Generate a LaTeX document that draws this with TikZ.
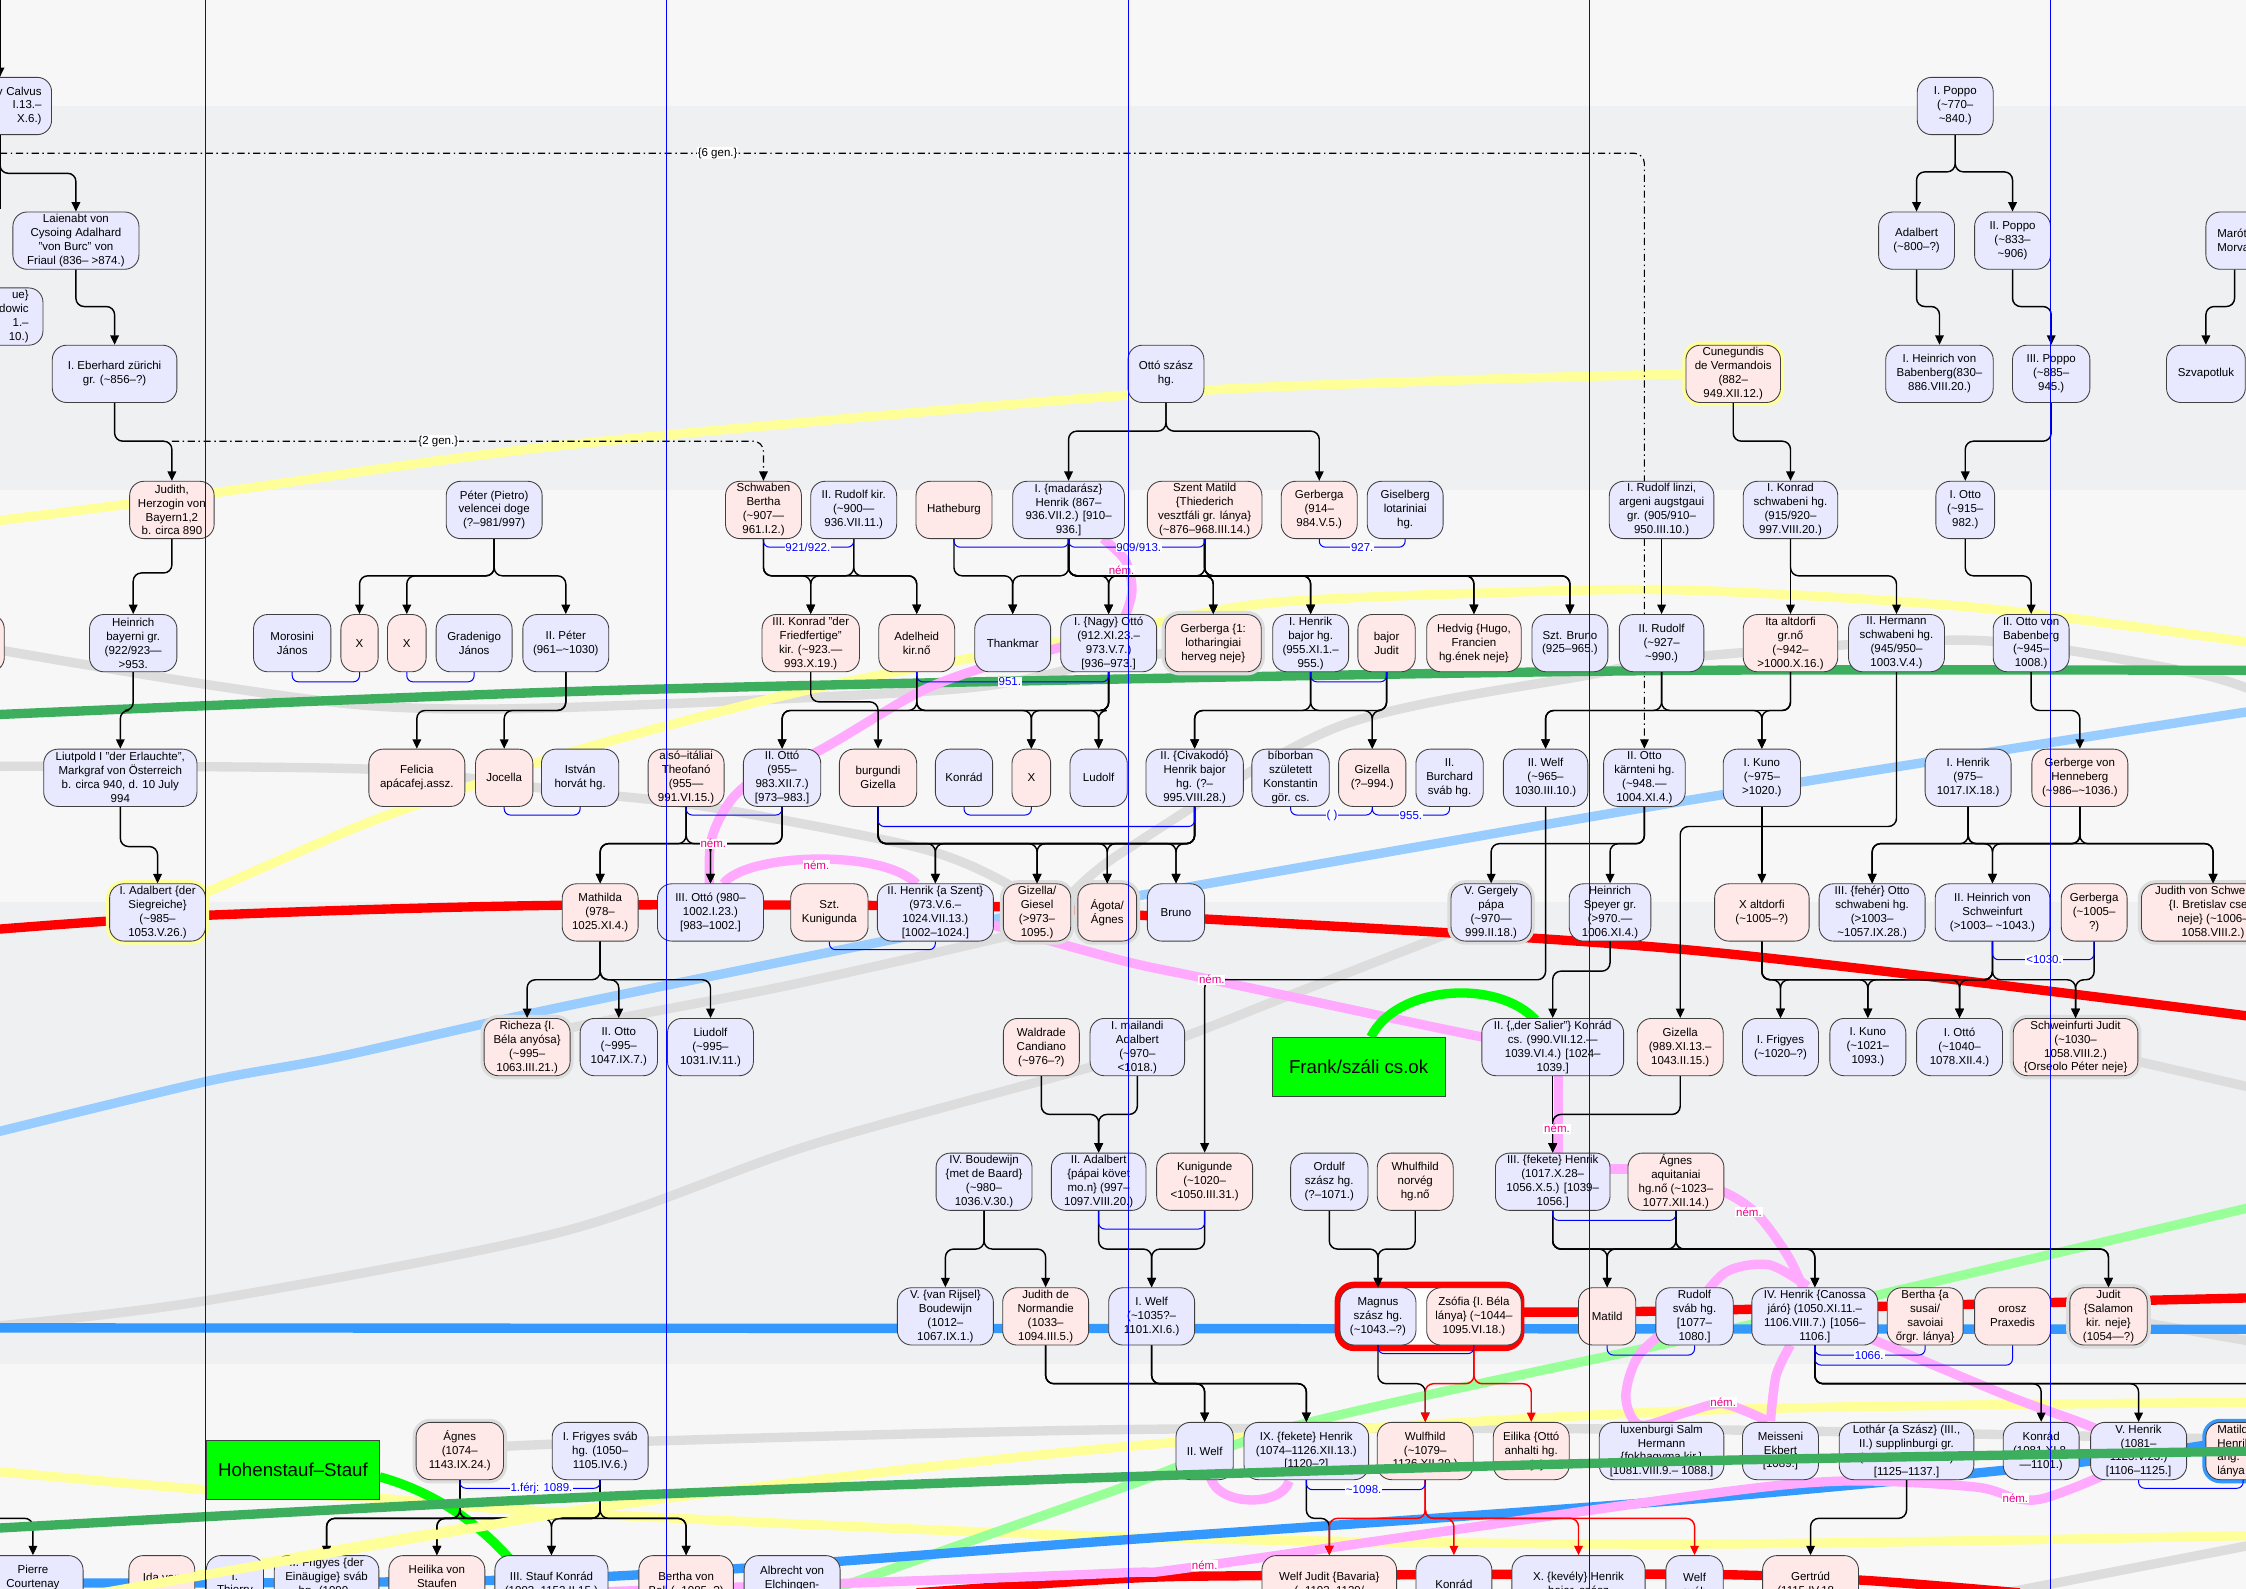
\documentclass[tikz,border=0pt]{standalone}
\usepackage{fontspec}
\setmainfont{Liberation Sans}
\usetikzlibrary{arrows.meta}
\pgfdeclarelayer{bands}
\pgfdeclarelayer{lines}
\pgfdeclarelayer{top}
\pgfsetlayers{bands,lines,main,top}
\definecolor{manfill}{HTML}{E8E8FF}
\definecolor{womanfill}{HTML}{FFE8E8}
\definecolor{bandlight}{HTML}{F7F7F7}
\definecolor{banddark}{HTML}{EFF0F2}
\definecolor{lnyellow}{HTML}{FFFF99}
\definecolor{lngreen}{HTML}{3DAE5E}
\definecolor{lnlime}{HTML}{00FF00}
\definecolor{lnsoft}{HTML}{99FF99}
\definecolor{lnred}{HTML}{FF0000}
\definecolor{lnsky}{HTML}{99CCFF}
\definecolor{lnblue}{HTML}{3399FF}
\definecolor{lnpink}{HTML}{FFAAFF}
\definecolor{lngray}{HTML}{DDDDDD}
\newcommand{\apx}{\textasciitilde}
\newcommand{\kids}[4][kid]{\foreach \kp in {#2}{\foreach \kc in {#4}{\draw[#1] (\kp.south) |- (\kc.north |- 0,#3) -- (\kc.north);}}}
\newcommand{\couple}[3]{\draw[wedline] (#1.south) |- (#2.south |- 0,#3) -- (#2.south);}

\begin{document}
\begin{tikzpicture}[x=0.35mm, y=-0.35mm,
    box/.style={draw=black!75, line width=0.6pt, rounded corners=3.5mm, minimum height=14mm, inner xsep=1pt, inner ysep=0.5pt, align=center, font=\fontsize{8}{9.7}\selectfont},
    man/.style={box, fill=manfill},
    woman/.style={box, fill=womanfill},
    wd/.style={minimum width=#1*0.35mm},
    glowgray/.style={preaction={draw=lngray, line width=5pt}},
    glowyellow/.style={preaction={draw=lnyellow, line width=5pt}},
    glowblue/.style={preaction={draw=lnblue, line width=5pt}},
    kid/.style={draw=black, line width=1pt, rounded corners=2mm, -{Triangle[length=2.3mm,width=2.1mm]}},
    kidred/.style={kid, draw=lnred},
    kidline/.style={draw=black, line width=1pt, rounded corners=2mm},
    wedline/.style={draw=blue, line width=0.7pt, rounded corners=1.5mm},
    wedlab/.style={text=blue, fill=white, inner sep=0.6pt, font=\fontsize{8}{9}\selectfont},
    nemlab/.style={text=magenta, fill=white, inner sep=0.6pt, font=\fontsize{8}{9}\selectfont},
    genlab/.style={fill=white, inner sep=0.6pt, font=\fontsize{8}{9}\selectfont},
    genline/.style={draw=black, line width=0.8pt, dash pattern=on 5pt off 2.5pt on 1pt off 2.5pt, rounded corners=2.5mm},
    hl/.style={draw=#1, line width=6.5pt},
    clan/.style={draw=black!75, fill=lnlime, font=\fontsize{13}{15}\selectfont, minimum width=121*0.35mm, minimum height=41*0.35mm, inner sep=0pt},
    vline/.style={draw=blue, line width=0.6pt}]

\useasboundingbox (0,0) rectangle (1568,1109);

\begin{pgfonlayer}{bands}
\fill[bandlight] (0,0) rectangle (1568,74);
\fill[banddark] (0,74) rectangle (1568,342);
\fill[bandlight] (0,342) rectangle (1568,630);
\fill[banddark] (0,630) rectangle (1568,952);
\fill[bandlight] (0,952) rectangle (1568,1109);
\end{pgfonlayer}

\begin{pgfonlayer}{lines}
\draw[hl=lngray] plot[smooth] coordinates {(-5,453) (145,478) (263,493) (392,494) (668,481) (770,462) (847,452)};
\draw[hl=lngray] plot[smooth] coordinates {(-5,535) (258,537) (392,552) (492,563) (642,592) (705,618) (724,637)};
\draw[hl=lngray] plot[smooth] coordinates {(724,637) (743,628) (785,594) (935,507) (1110,471) (1177,459) (1377,447) (1528,469) (1575,483)};
\draw[hl=lngray] plot[smooth] coordinates {(-5,926) (144,908) (392,860) (567,799) (785,738) (900,695) (1041,640)};
\draw[hl=lngray] plot[smooth] coordinates {(368,731) (392,719) (550,688) (705,653) (724,645)};
\draw[hl=lngray] plot[smooth] coordinates {(321,1013) (392,1008) (785,998) (1177,998) (1575,1005)};
\draw[hl=lngray] (1472,919) -- (1575,937);
\draw[hl=lngray] (1449,731) -- (1575,760);
\draw[hl=lngray] (1400,1112) -- (1575,1078);
\draw[hl=lnsky] plot[smooth] coordinates {(-5,791) (144,755) (235,738) (392,703) (693,642) (785,627) (1177,559) (1575,496)};
\draw[hl=lnyellow] plot[smooth] coordinates {(-5,364) (150,344) (392,311) (785,276) (1000,266) (1177,261) (1210,261)};
\draw[hl=lnyellow] plot[smooth] coordinates {(110,637) (144,623) (250,577) (328,549) (402,524) (567,481) (740,448) (797,437) (885,421) (1035,414) (1177,412) (1378,424) (1575,449)};
\draw[hl=lnyellow] plot[smooth] coordinates {(-5,1027) (144,1040) (264,1046) (392,1056) (785,1073) (1177,1078) (1575,1072)};
\draw[hl=lnyellow] plot[smooth] coordinates {(60,1114) (392,1056) (785,1010) (1177,985) (1575,979)};
\draw[hl=lngreen] plot[smooth] coordinates {(-5,499) (392,483) (785,474) (1177,468) (1575,468)};
\draw[hl=lnsoft] plot[smooth] coordinates {(575,1112) (785,1038) (910,994) (1177,935) (1307,905) (1575,842)};
\draw[hl=lnred] plot[smooth] coordinates {(-5,649) (144,639) (392,632) (700,633) (797,639) (1177,663) (1575,710)};
\draw[hl=lnred] plot[smooth] coordinates {(1064,916) (1177,915) (1575,906)};
\draw[hl=lnred] plot[smooth] coordinates {(640,1112) (785,1102) (881,1100) (1177,1099) (1297,1103) (1410,1112)};
\draw[hl=lnblue] (-5,927) -- (1575,928);
\draw[hl=lnblue] plot[smooth] coordinates {(-5,1105) (392,1102) (785,1075) (1177,1047) (1442,1022) (1545,1008)};
\draw[hl=lnpink] plot[smooth] coordinates {(496,637) (496,589) (510,559) (533,540) (572,524) (642,483) (693,464) (740,452) (778,440) (790,415) (786,392) (770,376)};
\draw[hl=lnpink] (505,617) .. controls (520,596) and (615,592) .. (640,617);
\draw[hl=lnpink] plot[smooth] coordinates {(653,637) (690,645) (785,671) (846,684) (1035,724) (1085,731)};
\draw[hl=lnpink] (1088,731) -- (1088,825);
\draw[hl=lnpink] (1082,816) -- (1170,816);
\draw[hl=lnpink] plot[smooth] coordinates {(1170,825) (1203,832) (1227,848) (1250,880) (1267,919)};
\draw[hl=lnpink] plot[smooth] coordinates {(1262,898) (1235,883) (1205,888) (1180,915) (1145,945) (1135,975) (1145,995) (1177,986) (1203,980) (1234,992)};
\draw[hl=lnpink] plot[smooth] coordinates {(1250,939) (1240,960) (1236,992)};
\draw[hl=lnpink] plot[smooth] coordinates {(1267,919) (1307,935) (1403,975) (1460,996) (1493,1013)};
\draw[hl=lnpink] plot[smooth] coordinates {(400,1112) (600,1105) (785,1098) (841,1093) (1177,1045) (1285,1034) (1378,1038) (1407,1046) (1427,1046) (1468,1030) (1493,1013)};
\draw[hl=lnpink] (845,1031) .. controls (850,1052) and (895,1052) .. (900,1034);
\draw[hl=lnlime] (957,724) .. controls (975,688) and (1045,683) .. (1072,712);
\draw[hl=lnlime] (265,1031) .. controls (305,1042) and (345,1068) .. (374,1112);
\end{pgfonlayer}

\draw[lnred, line width=4.5pt, fill=white, rounded corners=4mm] (934,897) rectangle (1062,941);

\node[man, wd=72, text width=20.3mm, align=right] (calvus) at (0,74) {y Calvus\\I.13.–\\X.6.)};
\node[man, wd=53] (poppo1) at (1365,74) {I. Poppo\\(\apx770–\\\apx840.)};

\node[man, wd=88] (laienabt) at (53,168) {Laienabt von\\Cysoing Adalhard\\"von Burc" von\\Friaul (836– >874.)};
\node[man, wd=53] (adalbertP) at (1338,168) {Adalbert\\(\apx800–?)};
\node[man, wd=53] (poppo2) at (1405,168) {II. Poppo\\(\apx833–\\\apx906)};
\node[man, wd=76, text width=21mm, align=left] (marot) at (1578,168) {Marót\\Morva};
\node[man, wd=100, text width=28mm, align=right] (uep) at (-20,221) {ue\}\\dowic\\1.–\\10.)};

\node[man, wd=87] (eberhard) at (80,261) {I. Eberhard zürichi\\gr. (\apx856–?)};
\node[man, wd=53] (ottosz) at (814,261) {Ottó szász\\hg.};
\node[woman, glowyellow, wd=66] (cunegundis) at (1210,261) {Cunegundis\\de Vermandois\\(882–\\949.XII.12.)};
\node[man, wd=75] (heinrichbab) at (1354,261) {I. Heinrich von\\Babenberg(830–\\886.VIII.20.)};
\node[man, wd=54] (poppo3) at (1432,261) {III. Poppo\\(\apx885–\\945.)};
\node[man, wd=55] (szvapotluk) at (1540,261) {Szvapotluk};

\node[woman, wd=59] (judith) at (120,356) {Judith,\\Herzogin von\\Bayern1,2\\b. circa 890};
\node[man, wd=67] (peterP) at (345,356) {Péter (Pietro)\\velencei doge\\(?–981/997)};
\node[woman, wd=53] (bertha) at (533,356) {Schwaben\\Bertha\\(\apx907—\\961.I.2.)};
\node[man, wd=60] (rudolfk) at (596,356) {II. Rudolf kir.\\(\apx900—\\936.VII.11.)};
\node[woman, wd=53] (hatheburg) at (666,356) {Hatheburg};
\node[man, wd=78] (madarasz) at (746,356) {I. \{madarász\}\\Henrik (867–\\936.VII.2.) [910–\\936.]};
\node[woman, wd=80] (matild) at (841,356) {Szent Matild\\\{Thiederich\\vesztfáli gr. lánya\}\\(\apx876–968.III.14.)};
\node[woman, wd=53] (gerberga914) at (921,356) {Gerberga\\(914–\\984.V.5.)};
\node[man, wd=53] (giselberg) at (981,356) {Giselberg\\lotariniai\\hg.};
\node[man, wd=73] (rudolfl) at (1160,356) {I. Rudolf linzi,\\argeni augstgaui\\gr. (905/910–\\950.III.10.)};
\node[man, wd=66] (konrad1) at (1250,356) {I. Konrad\\schwabeni hg.\\(915/920–\\997.VIII.20.)};
\node[man, wd=41] (otto1) at (1372,356) {I. Otto\\(\apx915–\\982.)};

\node[woman, wd=66] (leftpink) at (-30,449) {};
\node[man, wd=61] (heinrichbay) at (93,449) {Heinrich\\bayerni gr.\\(922/923—\\>953.};
\node[man, wd=54] (morosini) at (204,449) {Morosini\\János};
\node[woman, wd=26] (xa) at (251,449) {X};
\node[woman, wd=27] (xb) at (284,449) {X};
\node[man, wd=53] (gradenigo) at (331,449) {Gradenigo\\János};
\node[man, wd=60] (peter2) at (395,449) {II. Péter\\(961–\apx1030)};
\node[woman, wd=68] (konrad3) at (566,449) {III. Konrad "der\\Friedfertige"\\kir. (\apx923.—\\993.X.19.)};
\node[woman, wd=53] (adelheid) at (640,449) {Adelheid\\kir.nő};
\node[man, wd=53] (thankmar) at (707,449) {Thankmar};
\node[man, wd=67] (ottoN) at (774,449) {I. \{Nagy\} Ottó\\(912.XI.23.–\\973.V.7.)\\{}[936–973.]};
\node[woman, glowgray, wd=67] (gerbergaL) at (847,449) {Gerberga \{1:\\lotharingiai\\herveg neje\}};
\node[man, wd=53] (henrikB) at (915,449) {I. Henrik\\bajor hg.\\(955.XI.1.–\\955.)};
\node[woman, wd=40] (juditB) at (968,449) {bajor\\Judit};
\node[woman, wd=66] (hedvig) at (1029,449) {Hedvig \{Hugo,\\Francien\\hg.ének neje\}};
\node[man, wd=53] (brunoS) at (1096,449) {Szt. Bruno\\(925–965.)};
\node[man, wd=59] (rudolf2) at (1160,449) {II. Rudolf\\(\apx927–\\\apx990.)};
\node[woman, wd=66] (ita) at (1250,449) {Ita altdorfi\\gr.nő\\(\apx942–\\>1000.X.16.)};
\node[man, wd=67] (hermann) at (1324,449) {II. Hermann\\schwabeni hg.\\(945/950–\\1003.V.4.)};
\node[man, wd=53] (ottoBab) at (1418,449) {II. Otto von\\Babenberg\\(\apx945–\\1008.)};

\node[man, wd=107] (liutpold) at (84,543) {Liutpold I "der Erlauchte",\\Markgraf von Österreich\\b. circa 940, d. 10 July\\994};
\node[woman, wd=67] (felicia) at (291,543) {Felicia\\apácafej.assz.};
\node[woman, wd=40] (jocella) at (352,543) {Jocella};
\node[man, wd=54] (istvan) at (405,543) {István\\horvát hg.};
\node[woman, wd=53] (theofano) at (479,543) {alsó–itáliai\\Theofanó\\(955—\\991.VI.15.)};
\node[man, wd=54] (otto2) at (546,543) {II. Ottó\\(955–\\983.XII.7.)\\{}[973–983.]};
\node[woman, wd=54] (gizellaB) at (613,543) {burgundi\\Gizella};
\node[man, wd=40] (konradK) at (673,543) {Konrád};
\node[woman, wd=27] (xc) at (720,543) {X};
\node[man, wd=40] (ludolf) at (767,543) {Ludolf};
\node[man, wd=68] (civakodo) at (834,543) {II. \{Civakodó\}\\Henrik bajor\\hg. (?–\\995.VIII.28.)};
\node[man, wd=54] (konstantin) at (901,543) {bíborban\\született\\Konstantin\\gör. cs.};
\node[woman, wd=47] (gizella994) at (958,543) {Gizella\\(?–994.)};
\node[man, wd=47] (burchard) at (1012,543) {II.\\Burchard\\sváb hg.};
\node[man, wd=59] (welf2) at (1079,543) {II. Welf\\(\apx965–\\1030.III.10.)};
\node[man, wd=57] (ottoK) at (1148,543) {II. Otto\\kärnteni hg.\\(\apx948.—\\1004.XI.4.)};
\node[man, wd=54] (kuno1) at (1230,543) {I. Kuno\\(\apx975–\\>1020.)};
\node[man, wd=60] (henrik975) at (1374,543) {I. Henrik\\(975–\\1017.IX.18.)};
\node[woman, wd=67] (gerberge) at (1452,543) {Gerberge von\\Henneberg\\(\apx986–\apx1036.)};

\node[man, glowyellow, wd=67] (adalbertS) at (110,637) {I. Adalbert \{der\\Siegreiche\}\\(\apx985–\\1053.V.26.)};
\node[woman, wd=53] (mathilda) at (419,637) {Mathilda\\(978–\\1025.XI.4.)};
\node[man, wd=74] (otto3) at (496,637) {III. Ottó (980–\\1002.I.23.)\\{}[983–1002.]};
\node[woman, wd=54] (kunigundaS) at (579,637) {Szt.\\Kunigunda};
\node[man, wd=81] (henrik2) at (653,637) {II. Henrik \{a Szent\}\\(973.V.6.–\\1024.VII.13.)\\{}[1002–1024.]};
\node[woman, glowgray, wd=47] (giesel) at (724,637) {Gizella/\\Giesel\\(>973–\\1095.)};
\node[woman, glowgray, wd=41] (agota) at (773,637) {Ágota/\\Ágnes};
\node[man, wd=40] (brunoR) at (821,637) {Bruno};
\node[man, glowgray, wd=56] (gergely) at (1041,637) {V. Gergely\\pápa\\(\apx970—\\999.II.18.)};
\node[man, wd=57] (heinrichSp) at (1124,637) {Heinrich\\Speyer gr.\\(>970.—\\1006.XI.4.)};
\node[woman, wd=66] (xalt) at (1230,637) {X altdorfi\\(\apx1005–?)};
\node[man, wd=74] (otto3f) at (1307,637) {III. \{fehér\} Otto\\schwabeni hg.\\(>1003–\\\apx1057.IX.28.)};
\node[man, wd=80] (heinrich2S) at (1391,637) {II. Heinrich von\\Schweinfurt\\(>1003– \apx1043.)};
\node[woman, wd=46] (gerberga1005) at (1462,637) {Gerberga\\(\apx1005–\\?)};
\node[woman, glowgray, wd=100] (judithS) at (1545,637) {Judith von Schweinfurt\\\{I. Bretislav cseh.\\neje\} (\apx1006–\\1058.VIII.2.)};

\node[woman, glowgray, wd=60] (richeza) at (368,731) {Richeza \{I.\\Béla anyósa\}\\(\apx995–\\1063.III.21.)};
\node[man, wd=54] (otto2b) at (432,731) {II. Otto\\(\apx995–\\1047.IX.7.)};
\node[man, wd=60] (liudolf) at (496,731) {Liudolf\\(\apx995–\\1031.IV.11.)};
\node[woman, wd=53] (waldrade) at (727,731) {Waldrade\\Candiano\\(\apx976–?)};
\node[man, wd=66] (mailandi) at (794,731) {I. mailandi\\Adalbert\\(\apx970–\\<1018.)};
\node[clan] (frank) at (948.5,744.5) {Frank/száli cs.ok};
\node[man, wd=99] (konrad2) at (1084,731) {II. \{„der Salier”\} Konrád\\cs. (990.VII.12.—\\1039.VI.4.) [1024–\\1039.]};
\node[woman, wd=60] (gizella989) at (1173,731) {Gizella\\(989.XI.13.–\\1043.II.15.)};
\node[man, wd=53] (frigyes1) at (1243,731) {I. Frigyes\\(\apx1020–?)};
\node[man, wd=53] (kuno1b) at (1304,731) {I. Kuno\\(\apx1021–\\1093.)};
\node[man, wd=60] (otto1b) at (1368,731) {I. Ottó\\(\apx1040–\\1078.XII.4.)};
\node[woman, glowgray, wd=87] (juditSch) at (1449,731) {Schweinfurti Judit\\(\apx1030–\\1058.VIII.2.)\\\{Orseolo Péter neje\}};

\node[man, wd=67] (boudewijn4) at (687,825) {IV. Boudewijn\\\{met de Baard\}\\(\apx980–\\1036.V.30.)};
\node[man, wd=66] (adalbert2) at (767,825) {II. Adalbert\\\{pápai követ\\mo.n\} (997–\\1097.VIII.20.)};
\node[woman, wd=67] (kunigunde) at (841,825) {Kunigunde\\(\apx1020–\\<1050.III.31.)};
\node[man, wd=54] (ordulf) at (928,825) {Ordulf\\szász hg.\\(?–1071.)};
\node[woman, wd=53] (whulfhild) at (988,825) {Whulfhild\\norvég\\hg.nő};
\node[man, wd=80] (henrik3) at (1084,825) {III. \{fekete\} Henrik\\(1017.X.28–\\1056.X.5.) [1039–\\1056.]};
\node[woman, wd=67] (agnesA) at (1170,825) {Ágnes\\aquitaniai\\hg.nő (\apx1023–\\1077.XII.14.)};

\node[man, wd=67] (boudewijn5) at (660,919) {V. \{van Rijsel\}\\Boudewijn\\(1012–\\1067.IX.1.)};
\node[woman, wd=60] (judithN) at (730,919) {Judith de\\Normandie\\(1033–\\1094.III.5.)};
\node[man, wd=60] (welf1) at (804,919) {I. Welf\\(\apx1035?–\\1101.XI.6.)};
\node[man, wd=53] (magnus) at (962,919) {Magnus\\szász hg.\\(\apx1043.–?)};
\node[woman, wd=66] (zsofia) at (1029,919) {Zsófia \{I. Béla\\lánya\} (\apx1044–\\1095.VI.18.)};
\node[woman, wd=40] (matildR) at (1122,919) {Matild};
\node[man, wd=54] (rudolfS) at (1183,919) {Rudolf\\sváb hg.\\{}[1077–\\1080.]};
\node[man, wd=88] (henrik4) at (1267,919) {IV. Henrik \{Canossa\\járó\} (1050.XI.11.–\\1106.VIII.7.) [1056–\\1106.]};
\node[woman, wd=53] (berthaS) at (1344,919) {Bertha \{a\\susai/\\savoiai\\őrgr. lánya\}};
\node[woman, wd=53] (praxedis) at (1405,919) {orosz\\Praxedis};
\node[woman, glowgray, wd=54] (juditSal) at (1472,919) {Judit\\\{Salamon\\kir. neje\}\\(1054—?)};

\node[woman, glowgray, wd=61] (agnesS) at (321,1013) {Ágnes\\(1074–\\1143.IX.24.)};
\node[man, wd=67] (frigyesS) at (419,1013) {I. Frigyes sváb\\hg. (1050–\\1105.IV.6.)};
\node[clan] (hohen) at (204.5,1026) {Hohenstauf–Stauf};
\node[man, wd=40] (welf2b) at (841,1013) {II. Welf};
\node[man, wd=87] (henrik9) at (912,1013) {IX. \{fekete\} Henrik\\(1074–1126.XII.13.)\\{}[1120–?]};
\node[woman, wd=67] (wulfhild) at (995,1013) {Wulfhild\\(\apx1079–\\1126.XII.29.)};
\node[woman, wd=53] (eilika) at (1069,1013) {Eilika \{Ottó\\anhalti hg.\\neje\}};
\node[man, wd=87] (salm) at (1160,1013) {luxenburgi Salm\\Hermann\\\{fokhagyma kir.\}\\{}[1081.VIII.9.– 1088.]};
\node[man, wd=53] (ekbert) at (1243,1013) {Meisseni\\Ekbert\\{}[1089.]};
\node[man, wd=94] (lothar) at (1331,1013) {Lothár \{a Szász\} (III.,\\II.) supplinburgi gr.\\(1060–1137.XII.4.)\\{}[1125–1137.]};
\node[man, wd=53] (konradH) at (1425,1013) {Konrád\\(1081.XI.8.\\—1101.)};
\node[man, wd=67] (henrik5) at (1493,1013) {V. Henrik\\(1081–\\1125.V.23.)\\{}[1106–1125.]};
\node[woman, glowblue, wd=76, text width=21mm, align=left] (matildE) at (1578,1013) {Matild\\Henrik\\ang.\\lánya};

\node[man, wd=70] (pierre) at (23,1106) {Pierre\\Courtenay\\(1126–1176)};
\node[woman, wd=46] (ida) at (113,1106) {Ida von\\\mbox{}};
\node[man, wd=40] (thi) at (164,1106) {I.\\Thierry};
\node[man, wd=73] (frigyes2) at (228,1106) {II. Frigyes \{der\\Einäugige\} sváb\\hg. (1090–\\1147.IV.6.)};
\node[woman, wd=67] (heilika) at (305,1106) {Heilika von\\Staufen\\(\apx1081–};
\node[man, wd=79] (konrad3S) at (385,1106) {III. Stauf Konrád\\(1093–1152.II.15.)};
\node[woman, wd=66] (berthaB) at (479,1106) {Bertha von\\Boll (\apx1085–?)};
\node[man, wd=67] (albrecht) at (553,1106) {Albrecht von\\Elchingen-\\Ravenstein};
\node[woman, wd=94] (welfjudit) at (928,1106) {Welf Judit \{Bavaria\}\\(\apx1103–1129/};
\node[man, wd=53] (konradW) at (1015,1106) {Konrád};
\node[man, wd=93] (henrik10) at (1102,1106) {X. \{kevély\} Henrik\\bajor, szász};
\node[man, wd=40] (welfS) at (1183,1106) {Welf\\sváb};
\node[woman, wd=67] (gertrud) at (1264,1106) {Gertrúd\\(1115.IV.18.–};

\coordinate (offT) at (0,-10);
\coordinate (offC) at (0,146);
\coordinate (offL) at (-10,1060);
\coordinate (offR) at (1580,966);
\draw[kid] (offT) -- (calvus.north);
\draw[kidline] (calvus.south) -- (offC);
\kids{calvus}{121}{laienabt}
\kids{laienabt}{214}{eberhard}
\kids{eberhard}{308}{judith}
\kids{poppo1}{120}{adalbertP,poppo2}
\kids{adalbertP}{214}{heinrichbab}
\kids{poppo2}{214}{poppo3}
\draw[kid] ([xshift=-6.3mm]marot.south) |- (szvapotluk.north |- 0,214) -- (szvapotluk.north);
\kids{ottosz}{301}{madarasz,gerberga914}
\kids{poppo3}{308}{otto1}
\kids{cunegundis}{308}{konrad1}

\kids{judith}{400}{heinrichbay}
\kids{peterP}{402}{xa,xb,peter2}
\kids{bertha,rudolfk}{402}{konrad3,adelheid}
\kids{hatheburg,madarasz}{402}{thankmar}
\kids{madarasz,matild}{402}{ottoN,gerbergaL,henrikB,hedvig,brunoS}
\draw[kid] (rudolfl) -- (rudolf2);
\kids{konrad1}{402}{ita,hermann}
\kids{otto1}{402}{ottoBab}

\kids{heinrichbay}{496}{liutpold}
\kids{peter2}{496}{felicia,jocella}
\kids{konrad3}{490}{gizellaB}
\kids{adelheid,ottoN}{496}{otto2,xc,ludolf}
\kids{henrikB,juditB}{496}{civakodo,gizella994}
\kids{rudolf2,ita}{496}{welf2,kuno1}
\kids{hermann}{577}{gizella989}
\kids{ottoBab}{496}{gerberge}

\kids{liutpold}{591}{adalbertS}
\kids{theofano,otto2}{589}{mathilda,otto3}
\kids{gizellaB,civakodo}{589}{henrik2,giesel,agota,brunoR}
\kids{ottoK}{589}{gergely,heinrichSp}
\draw[kid] (kuno1) -- (xalt);
\kids{henrik975,gerberge}{589}{otto3f,heinrich2S,judithS}

\kids{mathilda}{684}{richeza,otto2b,liudolf}
\kids{welf2}{684}{kunigunde}
\kids{heinrichSp}{678}{konrad2}
\kids{xalt,heinrich2S}{684}{frigyes1,kuno1b,otto1b}
\kids{heinrich2S,gerberga1005}{684}{juditSch}

\kids{waldrade,mailandi}{778}{adalbert2}
\draw[kid] (konrad2) -- (henrik3);
\kids{gizella989}{778}{henrik3}

\kids{boudewijn4}{872}{boudewijn5,judithN}
\kids{adalbert2,kunigunde}{872}{welf1}
\kids{ordulf,whulfhild}{872}{magnus}
\kids{henrik3,agnesA}{872}{matildR,henrik4,juditSal}

\kids{judithN,welf1}{966}{welf2b,henrik9}
\kids{magnus}{966}{wulfhild}
\kids[kidred]{zsofia}{966}{wulfhild,eilika}
\kids{henrik4}{966}{konradH,henrik5}
\draw[kidline] (henrik4.south) |- (offR);

\kids{agnesS,frigyesS}{1060}{frigyes2,heilika,konrad3S,berthaB}
\draw[kid] (offL) -| (pierre.north);
\kids{henrik9}{1060}{welfjudit}
\kids[kidred]{wulfhild}{1060}{welfjudit,konradW,henrik10,welfS}
\kids{lothar}{1060}{gertrud}

\couple{morosini}{xa}{476}
\couple{xb}{gradenigo}{476}
\couple{bertha}{rudolfk}{382}
\couple{hatheburg}{madarasz}{382}
\couple{madarasz}{matild}{382}
\couple{gerberga914}{giselberg}{382}
\couple{adelheid}{ottoN}{476}
\couple{henrikB}{juditB}{476}
\couple{jocella}{istvan}{569}
\couple{theofano}{otto2}{569}
\couple{konradK}{xc}{569}
\couple{gizellaB}{civakodo}{577}
\couple{konstantin}{gizella994}{569}
\couple{gizella994}{burchard}{569}
\couple{kunigundaS}{henrik2}{663}
\couple{heinrich2S}{gerberga1005}{670}
\couple{adalbert2}{kunigunde}{858}
\couple{henrik3}{agnesA}{852}
\couple{magnus}{zsofia}{945}
\couple{matildR}{rudolfS}{946}
\couple{henrik4}{berthaS}{946}
\couple{henrik4}{praxedis}{953}
\couple{agnesS}{frigyesS}{1039}
\couple{henrik9}{wulfhild}{1040}
\draw[wedline] (henrik5.south) |- (1566,1039) -- (1566,1033);

\begin{pgfonlayer}{lines}
\draw[genline, -{Triangle[length=2.3mm,width=2.1mm]}] (calvus.south |- 0,107) -| (ottoK.north);
\draw[genline, -{Triangle[length=2.3mm,width=2.1mm]}] (judith.north |- 0,308) -| (bertha.north);
\end{pgfonlayer}

\node[genlab] (gen6) at (501,107) {\{6 gen.\}};
\node[genlab] (gen2) at (306,308) {\{2 gen.\}};

\node[wedlab] (w1) at (564,382) {921/922.};
\node[wedlab] (w2) at (795,382) {909/913.};
\node[wedlab] (w3) at (951,382) {927.};
\node[wedlab] (w4) at (705,476) {951.};
\node[wedlab] (w5) at (930,569) {( )};
\node[wedlab] (w6) at (985,569) {955.};
\node[wedlab] (w7) at (1427,670) {<1030.};
\node[wedlab] (w8) at (1305,946) {1066.};
\node[wedlab] (w9) at (378,1039) {1.férj: 1089.};
\node[wedlab] (w10) at (952,1040) {\apx1098.};

\node[nemlab] (n1) at (783,398) {ném.};
\node[nemlab] (n2) at (498,589) {ném.};
\node[nemlab] (n3) at (570,604) {ném.};
\node[nemlab] (n4) at (846,684) {ném.};
\node[nemlab] (n5) at (1087,788) {ném.};
\node[nemlab] (n6) at (1221,846) {ném.};
\node[nemlab] (n7) at (1203,979) {ném.};
\node[nemlab] (n8) at (1407,1046) {ném.};
\node[nemlab] (n9) at (841,1093) {ném.};

\begin{pgfonlayer}{top}
\draw[hl=lngreen] plot[smooth] coordinates {(-5,1067) (392,1046) (785,1031) (1177,1020) (1575,1013)};
\draw[hl=lnyellow] (60,1114) -- (392,1056);
\foreach \vx in {143.5,465.5,787.5,1109.5,1431.5}
  \draw[vline] (\vx,0) -- (\vx,1109);
\end{pgfonlayer}
\end{tikzpicture}
\end{document}
